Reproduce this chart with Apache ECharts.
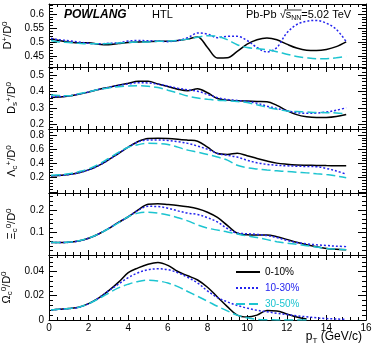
<!DOCTYPE html>
<html><head><meta charset="utf-8">
<script src="https://cdn.jsdelivr.net/npm/echarts@6/dist/echarts.min.js"></script>
<style>html,body{margin:0;padding:0;background:#fff}#c{width:374px;height:347px}</style>
</head><body><div id="c"></div>
<script>
// ---- data ----
const pT = [0.1,0.5,1,1.5,2,2.5,3,3.5,4,4.5,5,5.5,6,6.5,7,7.5,8,8.5,9,9.5,10,10.5,11,11.5,12,12.5,13,13.5,14,14.5,15];
const centralities = ['0-10%','10-30%','30-50%'];

const dPlus_0_10  = [0.512,0.505,0.500,0.497,0.497,0.492,0.490,0.494,0.498,0.500,0.501,0.502,0.502,0.505,0.510,0.518,0.480,0.442,0.443,0.466,0.492,0.508,0.514,0.508,0.492,0.478,0.470,0.469,0.473,0.483,0.500];
const dPlus_10_30 = [0.512,0.508,0.504,0.500,0.495,0.493,0.495,0.497,0.503,0.505,0.504,0.503,0.501,0.505,0.515,0.532,0.528,0.515,0.520,0.520,0.505,0.480,0.464,0.480,0.532,0.562,0.574,0.577,0.567,0.545,0.501];
const dPlus_30_50 = [0.505,0.500,0.498,0.495,0.493,0.493,0.494,0.496,0.498,0.500,0.500,0.502,0.503,0.505,0.510,0.517,0.522,0.520,0.508,0.490,0.480,0.476,0.472,0.465,0.456,0.448,0.443,0.440,0.440,0.443,0.449];

const ds_0_10  = [0.363,0.366,0.372,0.383,0.396,0.412,0.425,0.438,0.450,0.462,0.462,0.446,0.430,0.414,0.405,0.416,0.392,0.357,0.347,0.343,0.341,0.339,0.337,0.315,0.283,0.258,0.245,0.240,0.241,0.247,0.259];
const ds_10_30 = [0.367,0.368,0.373,0.384,0.397,0.412,0.425,0.437,0.446,0.454,0.452,0.445,0.433,0.420,0.410,0.402,0.382,0.362,0.351,0.345,0.339,0.328,0.310,0.296,0.282,0.270,0.266,0.268,0.274,0.285,0.300];
const ds_30_50 = [0.378,0.375,0.374,0.386,0.398,0.412,0.422,0.429,0.433,0.435,0.432,0.424,0.408,0.390,0.372,0.360,0.352,0.346,0.343,0.339,0.332,0.318,0.303,0.291,0.281,0.277,0.274,0.271,0.270,0.268,0.262];

const lc_0_10  = [0.229,0.232,0.245,0.270,0.310,0.370,0.450,0.540,0.630,0.710,0.752,0.755,0.752,0.742,0.728,0.712,0.630,0.540,0.528,0.545,0.510,0.470,0.435,0.405,0.390,0.380,0.376,0.373,0.370,0.369,0.369];
const lc_10_30 = [0.229,0.232,0.245,0.270,0.310,0.370,0.450,0.540,0.630,0.705,0.730,0.730,0.725,0.707,0.683,0.645,0.600,0.542,0.515,0.490,0.445,0.410,0.388,0.375,0.367,0.362,0.358,0.355,0.330,0.295,0.250];
const lc_30_50 = [0.236,0.240,0.255,0.285,0.325,0.390,0.470,0.555,0.628,0.665,0.683,0.680,0.668,0.630,0.588,0.560,0.527,0.490,0.447,0.375,0.340,0.322,0.308,0.297,0.287,0.278,0.268,0.256,0.245,0.225,0.200];

const xi_0_10  = [0.056,0.056,0.057,0.063,0.075,0.094,0.118,0.145,0.170,0.200,0.225,0.227,0.224,0.220,0.214,0.205,0.190,0.167,0.132,0.097,0.090,0.089,0.089,0.082,0.070,0.057,0.046,0.037,0.030,0.026,0.024];
const xi_10_30 = [0.056,0.056,0.057,0.063,0.075,0.094,0.118,0.145,0.170,0.198,0.216,0.215,0.208,0.196,0.186,0.180,0.166,0.147,0.118,0.098,0.095,0.092,0.087,0.078,0.066,0.056,0.050,0.046,0.043,0.040,0.038];
const xi_30_50 = [0.057,0.056,0.058,0.064,0.076,0.094,0.117,0.143,0.170,0.186,0.190,0.186,0.178,0.166,0.152,0.134,0.120,0.111,0.103,0.094,0.085,0.078,0.069,0.060,0.053,0.048,0.042,0.036,0.030,0.027,0.024];

const om_0_10  = [0.0082,0.0088,0.0095,0.0105,0.0135,0.018,0.024,0.031,0.039,0.043,0.046,0.0474,0.045,0.040,0.0365,0.033,0.027,0.019,0.011,0.004,0.0025,0.004,0.0078,0.0075,0.005,0.0025,0.0008,null,null,null,null];
const om_10_30 = [0.0082,0.0088,0.0095,0.0105,0.0135,0.018,0.024,0.0295,0.035,0.039,0.0415,0.0422,0.0415,0.039,0.0352,0.0305,0.024,0.0185,0.015,0.012,0.0098,0.008,0.0068,0.0055,0.0045,0.0035,0.0026,0.0018,0.0012,0.0008,0.0005];
const om_30_50 = [0.0082,0.0088,0.0095,0.0105,0.0135,0.0175,0.022,0.0265,0.0295,0.0318,0.0328,0.0322,0.0305,0.0275,0.0235,0.0195,0.0155,0.0113,0.0075,0.004,0.0018,0.0006,0.0002,0.0001,0,0,0,null,null,null,null];

// ---- tick labels ----
const xTickLabels = [0,2,4,6,8,10,12,14,16];
const dPlusTicks = [0.45,0.5,0.55,0.6];
const dsTicks = [0.2,0.3,0.4,0.5];
const lcTicks = [0.2,0.4,0.6,0.8];
const xiTicks = [0.1,0.2];
const omTicks = [0,0.02,0.04];

const FONT = '"Liberation Sans", Arial, Helvetica, sans-serif';
const COLORS = ['#000000', '#2424ee', '#1cc4d0'];
const LSTYLE = ['solid', [2, 2], [9, 4]];

const richName = {
  a: {fontSize: 11, fontFamily: FONT, color: '#000', lineHeight: 14},
  sp: {fontSize: 8, fontFamily: FONT, color: '#000', verticalAlign: 'top'},
  sb: {fontSize: 8, fontFamily: FONT, color: '#000', verticalAlign: 'bottom'}
};

const panels = [
  {top: 4,   h: 63, min: 0.41,   max: 0.636,  labels: dPlusTicks, major: 0.05, minor: 0.01,  name: '{a|D}{sp|+}{a|/D}{sp|0}', data: [dPlus_0_10, dPlus_10_30, dPlus_30_50]},
  {top: 67,  h: 62, min: 0.17,   max: 0.55,   labels: dsTicks,    major: 0.1,  minor: 0.02,  name: '{a|D}{sb|s}{sp|+}{a|/D}{sp|0}', data: [ds_0_10, ds_10_30, ds_30_50]},
  {top: 129, h: 64, min: -0.015, max: 0.885,  labels: lcTicks,    major: 0.2,  minor: 0.04,  name: '{a|Λ}{sb|c}{sp|+}{a|/D}{sp|0}', data: [lc_0_10, lc_10_30, lc_30_50]},
  {top: 193, h: 62, min: 0.001,  max: 0.275,  labels: xiTicks,    major: 0.1,  minor: 0.02,  name: '{a|Ξ}{sb|c}{sp|0}{a|/D}{sp|0}', data: [xi_0_10, xi_10_30, xi_30_50]},
  {top: 255, h: 65, min: 0.0,    max: 0.0536, labels: omTicks,    major: 0.02, minor: 0.004, name: '{a|Ω}{sb|c}{sp|0}{a|/D}{sp|0}', data: [om_0_10, om_10_30, om_30_50]}
];

const grids = [], xAxes = [], yAxes = [], series = [];
const fmt = v => String(Math.round(v * 1e4) / 1e4);
const near = (list, v) => list.some(t => Math.abs(t - v) < 1e-7);

panels.forEach((p, i) => {
  grids.push({left: 49, right: 8, top: p.top, height: p.h, containLabel: false, outerBoundsMode: 'none'});
  const xb = {type: 'value', gridIndex: i, min: 0, max: 16, splitLine: {show: false}, minorTick: {show: false},
    axisLine: {show: true, onZero: false, lineStyle: {color: '#000', width: 1}}, axisLabel: {show: false}};
  const xMain = xAxes.length;
  ['bottom', 'top'].forEach(pos => {
    xAxes.push(Object.assign({}, xb, {position: pos, interval: 2,
      axisTick: {show: true, inside: true, length: 5, lineStyle: {color: '#000'}},
      axisLabel: (pos === 'bottom' && i === 4) ? {show: true, formatter: v => near(xTickLabels, v) ? fmt(v) : '', fontSize: 10, fontFamily: FONT, color: '#000', margin: 3} : {show: false}}));
    xAxes.push(Object.assign({}, xb, {position: pos, interval: 0.4, axisLine: {show: false, onZero: false},
      axisTick: {show: true, inside: true, length: 3, lineStyle: {color: '#000'}}}));
  });
  const yb = {type: 'value', gridIndex: i, min: p.min, max: p.max, splitLine: {show: false}, minorTick: {show: false},
    axisLine: {show: true, onZero: false, lineStyle: {color: '#000', width: 1}}, axisLabel: {show: false}};
  const yMain = yAxes.length;
  ['left', 'right'].forEach(pos => {
    const major = Object.assign({}, yb, {position: pos, minInterval: p.major, maxInterval: p.major, splitNumber: 4,
      axisTick: {show: true, inside: true, length: 8, lineStyle: {color: '#000'}},
      axisLabel: pos === 'left' ? {show: true, showMinLabel: true, showMaxLabel: true,
        formatter: v => near(p.labels, v) ? fmt(v) : '', fontSize: 10, fontFamily: FONT, color: '#000', margin: 5} : {show: false}});
    if (pos === 'left') {
      Object.assign(major, {name: p.name, nameLocation: 'middle', nameRotate: 90, nameGap: 28,
        nameTextStyle: {rich: richName}});
    }
    yAxes.push(major);
    yAxes.push(Object.assign({}, yb, {position: pos, minInterval: p.minor, maxInterval: p.minor, splitNumber: 20,
      axisLine: {show: false, onZero: false},
      axisTick: {show: true, inside: true, length: 4, lineStyle: {color: '#000'}}}));
  });
  p.data.forEach((arr, j) => {
    const pts = [];
    pT.forEach((x, k) => { if (arr[k] !== null) pts.push([x, arr[k]]); });
    series.push({type: 'line', name: centralities[j], xAxisIndex: xMain, yAxisIndex: yMain,
      data: pts, smooth: 0.35, symbol: 'none', showSymbol: false, clip: true,
      lineStyle: {color: COLORS[j], width: 1.5, type: LSTYLE[j]}, itemStyle: {color: COLORS[j]}});
  });
});

const chart = echarts.init(document.getElementById('c'), null, {renderer: 'canvas'});
chart.setOption({
  animation: false,
  backgroundColor: '#fff',
  grid: grids, xAxis: xAxes, yAxis: yAxes, series: series,
  legend: {left: 230, top: 262, orient: 'vertical', itemWidth: 24, itemHeight: 10, itemGap: 6,
    itemStyle: {opacity: 0},
    textStyle: {fontSize: 10, fontFamily: FONT},
    data: centralities.map((c, j) => ({name: c, textStyle: {color: COLORS[j]}}))},
  graphic: [
    {type: 'text', left: 64, top: 9, style: {text: 'POWLANG', font: 'italic bold 12px ' + FONT, fill: '#000'}},
    {type: 'text', left: 152, top: 9, style: {text: 'HTL', font: '11px ' + FONT, fill: '#000'}},
    {type: 'text', left: 246, top: 9, style: {text: '{a|Pb-Pb √s}{sb|NN}{a|=5.02 TeV}', rich: {
      a: {fontSize: 11, fontFamily: FONT, color: '#000', lineHeight: 14},
      sb: {fontSize: 7, fontFamily: FONT, color: '#000', verticalAlign: 'bottom'}}}},
    {type: 'line', shape: {x1: 284.5, y1: 10, x2: 301.5, y2: 10}, style: {stroke: '#000', lineWidth: 0.8}},
    {type: 'text', right: 12, top: 331, style: {text: '{a|p}{sb|T}{a| (GeV/c)}', rich: {
      a: {fontSize: 12, fontFamily: FONT, color: '#000', lineHeight: 15},
      sb: {fontSize: 8, fontFamily: FONT, color: '#000', verticalAlign: 'bottom'}}}}
  ]
});
</script></body></html>
